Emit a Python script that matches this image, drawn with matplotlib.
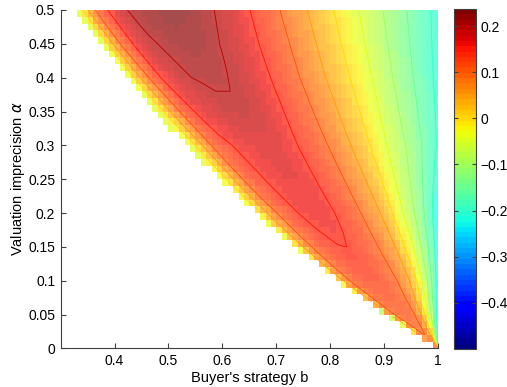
import numpy as np
import matplotlib
matplotlib.use('Agg')
import matplotlib.pyplot as plt
from matplotlib.colors import Normalize
from matplotlib.ticker import FuncFormatter

plt.rcParams['font.family'] = ['Liberation Sans', 'DejaVu Sans']

# rows of the table: valuation imprecision alpha
alpha_rows = [0.0, 0.05, 0.1, 0.2, 0.3, 0.35, 0.4, 0.45, 0.5]
# columns: relative position across the wedge (0 = lower edge, 1 = b = 1)
s_cols = [0, 0.02, 0.05, 0.1, 0.15, 0.2, 0.25, 0.3, 0.35, 0.4, 0.5, 0.6, 0.7, 0.8, 0.9, 1.0]

# payoff values, one list per alpha row
payoff_a00 = [-0.48, -0.35, -0.15, 0.0, 0.05, 0.07, 0.08, 0.085, 0.09, 0.09, 0.085, 0.06, 0.0, -0.07, -0.15, -0.22]
payoff_a05 = [-0.10, 0.0, 0.05, 0.085, 0.10, 0.108, 0.112, 0.115, 0.116, 0.115, 0.108, 0.09, 0.035, -0.04, -0.13, -0.23]
payoff_a10 = [-0.03, 0.03, 0.07, 0.10, 0.115, 0.125, 0.131, 0.135, 0.135, 0.132, 0.117, 0.097, 0.057, -0.012, -0.11, -0.22]
payoff_a20 = [-0.03, 0.013, 0.05, 0.098, 0.127, 0.145, 0.156, 0.163, 0.165, 0.157, 0.13, 0.088, 0.04, -0.045, -0.125, -0.235]
payoff_a30 = [-0.05, -0.01, 0.045, 0.115, 0.143, 0.158, 0.168, 0.173, 0.172, 0.163, 0.127, 0.08, 0.02, -0.054, -0.12, -0.205]
payoff_a35 = [-0.045, 0.005, 0.065, 0.133, 0.163, 0.181, 0.191, 0.194, 0.188, 0.171, 0.128, 0.076, 0.015, -0.057, -0.128, -0.208]
payoff_a40 = [-0.04, 0.02, 0.085, 0.15, 0.183, 0.2, 0.206, 0.204, 0.193, 0.176, 0.13, 0.072, 0.01, -0.06, -0.135, -0.212]
payoff_a45 = [-0.05, 0.03, 0.10, 0.165, 0.196, 0.213, 0.22, 0.215, 0.199, 0.18, 0.134, 0.074, 0.008, -0.063, -0.138, -0.214]
payoff_a50 = [-0.05, 0.035, 0.11, 0.175, 0.21, 0.225, 0.233, 0.228, 0.212, 0.19, 0.138, 0.075, 0.007, -0.065, -0.14, -0.215]

contour_levels = [-0.2, -0.15, -0.1, -0.05, 0.0, 0.05, 0.1, 0.15, 0.2]
cbar_ticks = [-0.4, -0.3, -0.2, -0.1, 0, 0.1, 0.2]
x_ticks = [0.4, 0.5, 0.6, 0.7, 0.8, 0.9, 1.0]
y_ticks = [0, 0.05, 0.1, 0.15, 0.2, 0.25, 0.3, 0.35, 0.4, 0.45, 0.5]

table = np.array([payoff_a00, payoff_a05, payoff_a10, payoff_a20, payoff_a30,
                  payoff_a35, payoff_a40, payoff_a45, payoff_a50])
arows = np.array(alpha_rows)


def payoff(bb, aa):
    aa_safe = np.maximum(aa, 1e-6)
    s = (bb * (1 + aa_safe) - (1 - aa_safe)) / (2 * aa_safe)
    sc = np.clip(s, 0, 1)
    per_row = np.stack([np.interp(sc, s_cols, r) for r in table])
    idx = np.clip(np.searchsorted(arows, aa, side='right') - 1, 0, len(arows) - 2)
    t = (aa - arows[idx]) / (arows[idx + 1] - arows[idx])
    lo = np.take_along_axis(per_row, idx[None], 0)[0]
    hi = np.take_along_axis(per_row, idx[None] + 1, 0)[0]
    v = lo * (1 - t) + hi * t
    return np.where(s >= -0.01, v, np.nan)


# grid of cells (step 0.01 in both directions)
b_edges = np.round(np.arange(0.30, 1.0001, 0.01), 3)
a_edges = np.round(np.arange(0.0, 0.5001, 0.01), 3)
bc = (b_edges[:-1] + b_edges[1:]) / 2
ac = (a_edges[:-1] + a_edges[1:]) / 2
BC, AC = np.meshgrid(bc, ac)
Vc = payoff(BC, AC)

# finer grid for the contour lines
bf = np.linspace(0.30, 1.0, 351)
af = np.linspace(0.001, 0.5, 251)
BF, AF = np.meshgrid(bf, af)
Vf = payoff(BF, AF)
Vf = np.ma.masked_invalid(np.where((BF * (1 + AF) - (1 - AF)) >= 0.004, Vf, np.nan))

cmap = plt.get_cmap('jet', 64)
norm = Normalize(vmin=-0.5, vmax=0.237)

fig = plt.figure(figsize=(5.07, 3.87), dpi=100)
ax = fig.add_axes([0.1197, 0.0995, 0.7442, 0.8747])

ax.pcolormesh(b_edges, a_edges, np.ma.masked_invalid(Vc), cmap=cmap, norm=norm,
              alpha=0.7, shading='flat', linewidth=0, antialiased=False)
ax.contour(BF, AF, Vf, levels=contour_levels, cmap=cmap, norm=norm, linewidths=0.6)

ax.set_xlim(0.3, 1.0)
ax.set_ylim(0, 0.5)
ax.set_xticks(x_ticks)
ax.set_yticks(y_ticks)
fmt = FuncFormatter(lambda v, p: ('%g' % round(v, 3)).replace('-', '\u2212'))
ax.xaxis.set_major_formatter(fmt)
ax.yaxis.set_major_formatter(fmt)
ax.tick_params(direction='in', length=3.5, labelsize=10, color='0.25', pad=4)
for side in ['top', 'right']:
    ax.spines[side].set_visible(False)
for side in ['left', 'bottom']:
    ax.spines[side].set_color('0.25')
ax.set_xlabel("Buyer's strategy b", fontsize=10.5, labelpad=2)
ax.set_ylabel('Valuation imprecision $\\alpha$', fontsize=10.5, labelpad=1)

cax = fig.add_axes([0.8955, 0.0982, 0.0428, 0.8785])
sm = plt.cm.ScalarMappable(norm=norm, cmap=cmap)
cb = fig.colorbar(sm, cax=cax, ticks=cbar_ticks)
cb.ax.yaxis.set_major_formatter(fmt)
cb.ax.tick_params(direction='in', length=3, labelsize=10, left=True, right=True, color='0.25')
cb.outline.set_edgecolor('0.25')

fig.savefig('out.png', dpi=100)
